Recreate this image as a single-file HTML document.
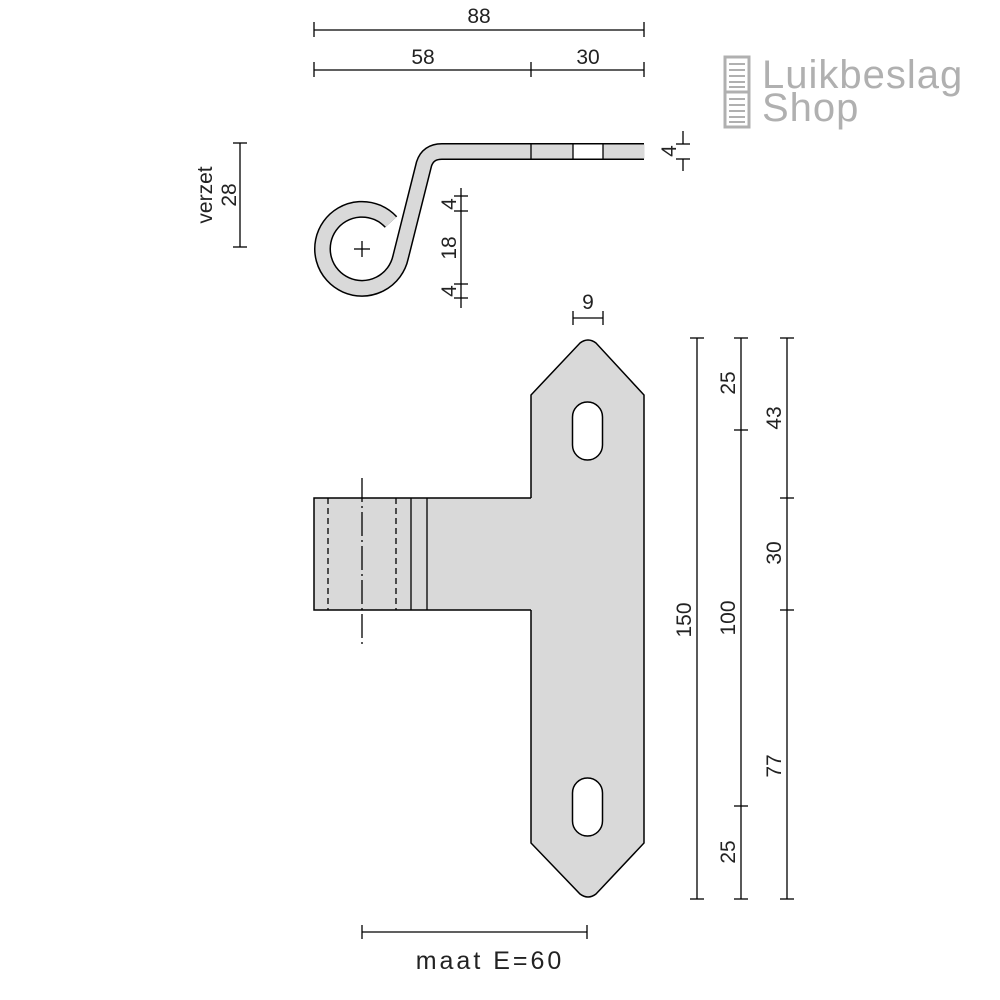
<!DOCTYPE html>
<html><head><meta charset="utf-8"><style>
html,body{margin:0;padding:0;background:#fff;}
svg{display:block;}
text{font-family:"Liberation Sans",sans-serif;fill:#222;}
</style></head><body>
<svg width="1000" height="1000" viewBox="0 0 1000 1000" xmlns="http://www.w3.org/2000/svg">
<g stroke="#000" stroke-width="1.3" fill="none">
<line x1="314" y1="30" x2="644" y2="30"/><line x1="314" y1="22" x2="314" y2="37"/><line x1="644" y1="22" x2="644" y2="37"/>
<line x1="314" y1="70" x2="644" y2="70"/><line x1="314" y1="62" x2="314" y2="77"/><line x1="531" y1="62" x2="531" y2="77"/><line x1="644" y1="62" x2="644" y2="77"/>
<line x1="240" y1="143" x2="240" y2="247"/><line x1="233" y1="143" x2="247" y2="143"/><line x1="233" y1="247" x2="247" y2="247"/>
<line x1="683" y1="131" x2="683" y2="144"/><line x1="683" y1="159" x2="683" y2="171"/>
<line x1="676" y1="144" x2="690" y2="144"/><line x1="676" y1="159" x2="690" y2="159"/>
<line x1="461" y1="188" x2="461" y2="308"/>
<line x1="454" y1="196" x2="468" y2="196"/><line x1="454" y1="211" x2="468" y2="211"/><line x1="454" y1="284" x2="468" y2="284"/><line x1="454" y1="298" x2="468" y2="298"/>
</g>
<path d="M644,151.5 L442,151.5 Q428,151.5 424,164 L400.6,257.2 A39.5,39.5 0 1 1 391,222" fill="none" stroke="#000" stroke-width="17"/>
<path d="M644.5,151.5 L442,151.5 Q428,151.5 424,164 L400.6,257.2 A39.5,39.5 0 1 1 391,222" fill="none" stroke="#d9d9d9" stroke-width="14"/>
<rect x="573" y="144.5" width="30" height="14" fill="#fff"/>
<g stroke="#000" stroke-width="1.3">
<line x1="531" y1="144" x2="531" y2="159"/><line x1="573" y1="144" x2="573" y2="159"/><line x1="603" y1="144" x2="603" y2="159"/>
<line x1="354" y1="249" x2="370" y2="249"/><line x1="362" y1="241" x2="362" y2="257"/>
</g>
<path d="M580,343 Q588,337 596,343 L644,395 L644,843 L596,894 Q588,900 580,894 L531,843 L531,395 Z" fill="#d9d9d9" stroke="#000" stroke-width="1.5"/>
<rect x="314" y="498" width="218" height="112" fill="#d9d9d9"/>
<polyline points="531,498 314,498 314,610 531,610" fill="none" stroke="#000" stroke-width="1.5"/>
<rect x="572.5" y="402" width="30" height="58" rx="15" fill="#fff" stroke="#000" stroke-width="1.5"/>
<rect x="572.5" y="778" width="30" height="58" rx="15" fill="#fff" stroke="#000" stroke-width="1.5"/>
<g stroke="#000" stroke-width="1.3" fill="none">
<line x1="411" y1="498" x2="411" y2="610"/><line x1="427" y1="498" x2="427" y2="610"/>
<line x1="328" y1="498" x2="328" y2="610" stroke-dasharray="6,4"/><line x1="396" y1="498" x2="396" y2="610" stroke-dasharray="6,4"/>
<line x1="362" y1="478" x2="362" y2="645" stroke-dasharray="24,4,2,4"/>
<line x1="573" y1="318" x2="603" y2="318"/><line x1="573" y1="311" x2="573" y2="325"/><line x1="603" y1="311" x2="603" y2="325"/>
<line x1="697" y1="338" x2="697" y2="899"/><line x1="690" y1="338" x2="704" y2="338"/><line x1="690" y1="899" x2="704" y2="899"/>
<line x1="741" y1="338" x2="741" y2="899"/><line x1="734" y1="338" x2="748" y2="338"/><line x1="734" y1="430" x2="748" y2="430"/><line x1="734" y1="806" x2="748" y2="806"/><line x1="734" y1="899" x2="748" y2="899"/>
<line x1="787" y1="338" x2="787" y2="899"/><line x1="780" y1="338" x2="794" y2="338"/><line x1="780" y1="498" x2="794" y2="498"/><line x1="780" y1="610" x2="794" y2="610"/><line x1="780" y1="899" x2="794" y2="899"/>
<line x1="362" y1="932" x2="587" y2="932"/><line x1="362" y1="925" x2="362" y2="939"/><line x1="587" y1="925" x2="587" y2="939"/>
</g>
<g font-size="21" text-anchor="middle">
<text x="479" y="23">88</text>
<text x="423" y="64">58</text>
<text x="588" y="64">30</text>
<text x="588" y="309">9</text>
<text x="490" y="969" font-size="25" letter-spacing="3">maat  E=60</text>
<text transform="translate(676,151) rotate(-90)">4</text>
<text transform="translate(236,195) rotate(-90)">28</text>
<text transform="translate(212,195) rotate(-90)">verzet</text>
<text transform="translate(456,204) rotate(-90)">4</text>
<text transform="translate(456,248) rotate(-90)">18</text>
<text transform="translate(456,291) rotate(-90)">4</text>
<text transform="translate(691,620) rotate(-90)">150</text>
<text transform="translate(735,383) rotate(-90)">25</text>
<text transform="translate(735,618) rotate(-90)">100</text>
<text transform="translate(735,852) rotate(-90)">25</text>
<text transform="translate(781,418) rotate(-90)">43</text>
<text transform="translate(781,553) rotate(-90)">30</text>
<text transform="translate(781,766) rotate(-90)">77</text>
</g>
<g fill="none" stroke="#b0b0b0" stroke-width="3">
<rect x="725" y="57" width="24" height="70"/>
<line x1="725" y1="92" x2="749" y2="92"/>
</g>
<g stroke="#b0b0b0" stroke-width="2">
<line x1="729" y1="64" x2="745" y2="64"/><line x1="729" y1="70" x2="745" y2="70"/><line x1="729" y1="76" x2="745" y2="76"/><line x1="729" y1="82" x2="745" y2="82"/><line x1="729" y1="87" x2="745" y2="87"/>
<line x1="729" y1="99" x2="745" y2="99"/><line x1="729" y1="105" x2="745" y2="105"/><line x1="729" y1="111" x2="745" y2="111"/><line x1="729" y1="117" x2="745" y2="117"/><line x1="729" y1="122" x2="745" y2="122"/>
</g>
<text x="762" y="88" font-size="40" letter-spacing="1" style="fill:#b0b0b0">Luikbeslag</text>
<text x="762" y="121" font-size="40" letter-spacing="1" style="fill:#b0b0b0">Shop</text>
</svg>
</body></html>
